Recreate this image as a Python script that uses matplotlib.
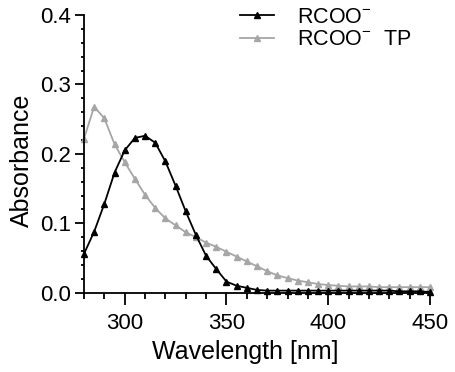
import matplotlib
matplotlib.use("Agg")
import matplotlib.pyplot as plt
from matplotlib.ticker import MultipleLocator

plt.rcParams['font.family'] = ['Liberation Sans', 'DejaVu Sans']
plt.rcParams['mathtext.fontset'] = 'custom'
plt.rcParams['mathtext.rm'] = 'Liberation Sans'
plt.rcParams['mathtext.it'] = 'Liberation Sans'

# wavelength grid, 5 nm steps
wavelength = list(range(280, 455, 5))

rcoo = [0.056, 0.088, 0.128, 0.173, 0.205, 0.223, 0.226, 0.216, 0.189, 0.154,
        0.117, 0.083, 0.053, 0.034, 0.016, 0.010, 0.007, 0.004, 0.003, 0.003,
        0.003, 0.003, 0.003, 0.003, 0.003, 0.003, 0.003, 0.003, 0.003, 0.003,
        0.003, 0.002, 0.002, 0.002, 0.001]

rcoo_tp = [0.222, 0.268, 0.251, 0.214, 0.188, 0.164, 0.141, 0.122, 0.107, 0.097,
           0.087, 0.080, 0.072, 0.066, 0.059, 0.052, 0.045, 0.038, 0.031, 0.025,
           0.021, 0.0175, 0.015, 0.0125, 0.011, 0.010, 0.009, 0.009, 0.009, 0.008,
           0.008, 0.008, 0.008, 0.008, 0.008]

labels = ['RCOO$^{-}$', 'RCOO$^{-}$  TP']

fig = plt.figure(figsize=(4.56, 3.72), dpi=100)
ax = fig.add_axes([84/456, 1 - 292.7/372, (430 - 84)/456, (292.7 - 15)/372])

ax.plot(wavelength, rcoo_tp, color='#a6a6a6', marker='^', markersize=4.5,
        lw=1.3, label=labels[1], clip_on=False, zorder=2)
ax.plot(wavelength, rcoo, color='black', marker='^', markersize=4.5,
        lw=1.3, label=labels[0], clip_on=False, zorder=3)

ax.set_xlim(280, 450)
ax.set_ylim(0, 0.4)
ax.xaxis.set_major_locator(MultipleLocator(50))
ax.xaxis.set_minor_locator(MultipleLocator(10))
ax.yaxis.set_major_locator(MultipleLocator(0.1))
ax.yaxis.set_minor_locator(MultipleLocator(0.02))
ax.yaxis.set_major_formatter(plt.FormatStrFormatter('%.1f'))

for s in ['top', 'right']:
    ax.spines[s].set_visible(False)
for s in ['left', 'bottom']:
    ax.spines[s].set_linewidth(1.3)

ax.tick_params(axis='x', which='major', length=8.5, width=1.3, labelsize=16, pad=6)
ax.tick_params(axis='x', which='minor', length=4.5, width=1.3)
ax.tick_params(axis='y', which='major', length=6.5, width=1.3, labelsize=16, pad=3)
ax.tick_params(axis='y', which='minor', length=2.5, width=1.3)

ax.set_xlabel('Wavelength [nm]', fontsize=18)
ax.set_ylabel('Absorbance', fontsize=18)
ax.xaxis.set_label_coords(0.465, -0.169)
ax.yaxis.set_label_coords(-0.145, 0.478)

h, l = ax.get_legend_handles_labels()
fig.legend(h[::-1], l[::-1], loc='upper left', bbox_to_anchor=(240/456, 1 - 7/372),
           frameon=False, fontsize=15.5, numpoints=1, handlelength=1.6,
           handletextpad=1.05, labelspacing=0.05, borderpad=0, borderaxespad=0)

fig.savefig('out.png', dpi=100)
